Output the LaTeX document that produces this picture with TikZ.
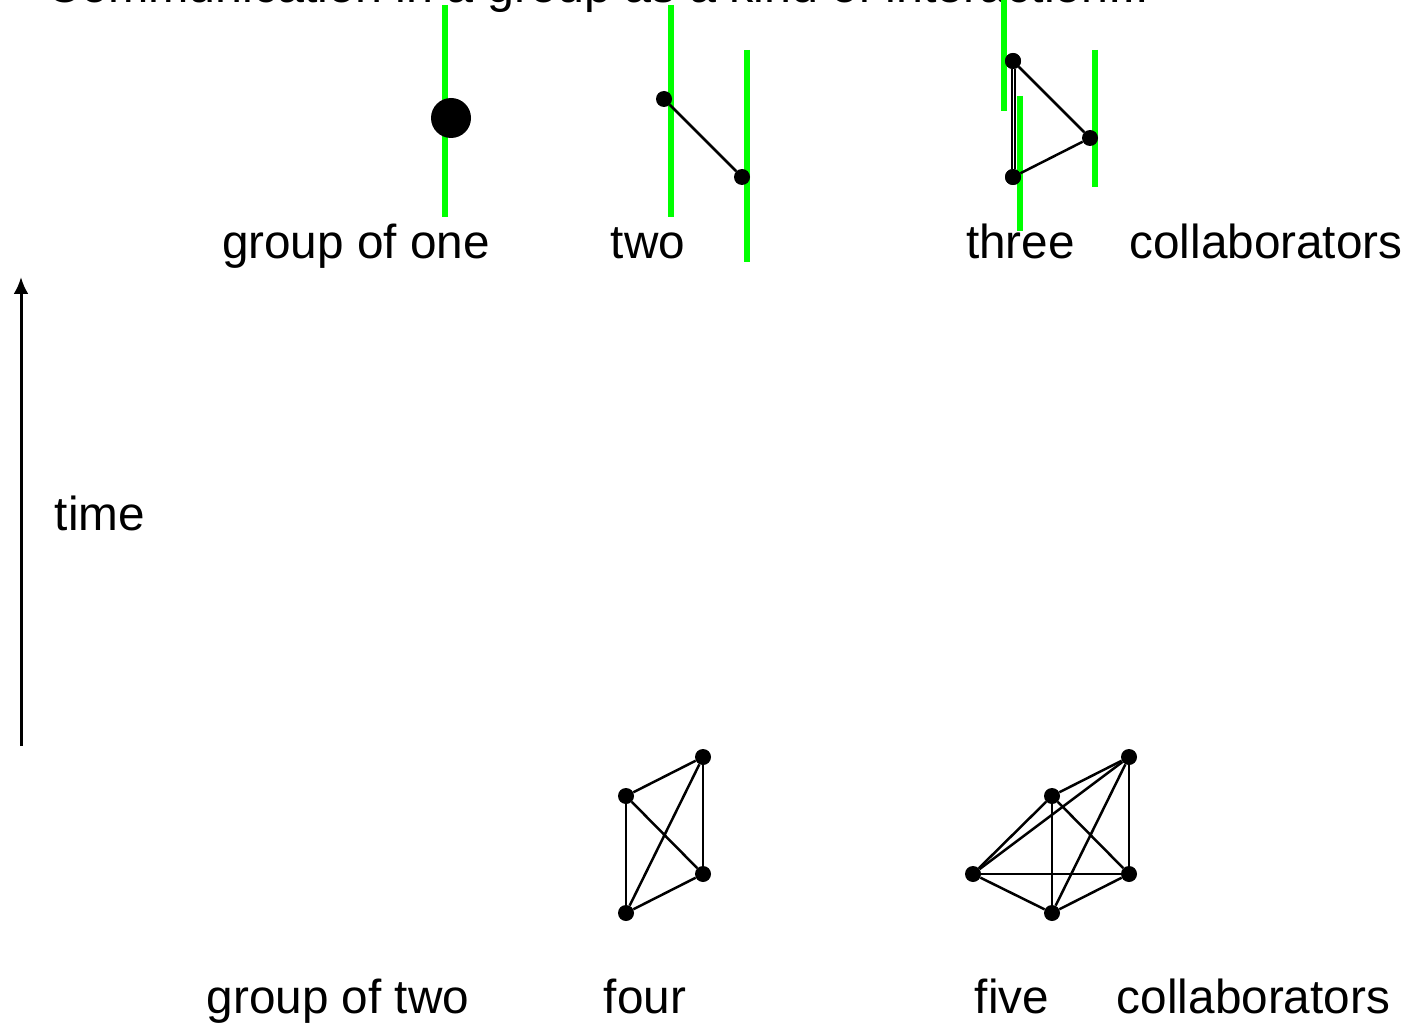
\documentclass[tikz,border=0pt]{standalone}
\usepackage{fontspec}
\setmainfont{Liberation Sans}
\usetikzlibrary{arrows.meta}
\definecolor{tlgreen}{RGB}{0,255,0}
\begin{document}
\begin{tikzpicture}[x=1pt,y=-1pt,
  lbl/.style={inner sep=0pt, anchor=base, font=\fontsize{47.7}{57}\selectfont},
  dot/.style={circle, fill=black, inner sep=0pt, minimum size=16pt},
  bigdot/.style={circle, fill=black, inner sep=0pt, minimum size=40pt},
  tl/.style={draw=tlgreen, line width=6pt},
  edge/.style={draw=black, line width=2.5pt}]
\useasboundingbox (0,0) rectangle (1409,1027);
\clip (0,0) rectangle (1409,1027);
% title (cut off at top)
\node[lbl, anchor=base west, font=\fontsize{48.4}{58}\selectfont] (title) at (46,3) {Communication in a group as a kind of interaction...};
% time arrow
\coordinate (tb) at (21,746);
\coordinate (tt) at (21,277);
\draw[line width=3pt, -{Latex[length=17pt,width=15pt]}] (tb) -- (tt);
\node[lbl] (time) at (100,530) {time};
% timelines
\draw[tl] (445,5) -- (445,217);
\draw[tl] (671,5) -- (671,217);
\draw[tl] (747,50) -- (747,262);
\draw[tl] (1004,0) -- (1004,111);
\draw[tl] (1020,96) -- (1020,231);
\draw[tl] (1095,50) -- (1095,187);
% group of one
\node[bigdot] (o1) at (451,118) {};
% two
\node[dot] (t1) at (664,99) {};
\node[dot] (t2) at (742,177) {};
\draw[edge] (t1) -- (t2);
% three
\node[dot] (h1) at (1013,61) {};
\node[dot] (h2) at (1090,138) {};
\node[dot] (h3) at (1013,177) {};
\draw[edge] (h1) -- (h2);
\draw[edge] (h2) -- (h3);
\draw[line width=2pt, double=white, double distance=1pt] (h1) -- (h3);
\node[dot] at (h1) {};
\node[dot] at (h3) {};
% four
\node[dot] (f1) at (703,757) {};
\node[dot] (f2) at (626,796) {};
\node[dot] (f3) at (703,874) {};
\node[dot] (f4) at (626,913) {};
\foreach \a/\b in {f1/f2,f1/f3,f1/f4,f2/f3,f2/f4,f3/f4} \draw[edge] (\a) -- (\b);
% five
\node[dot] (v1) at (1129,757) {};
\node[dot] (v2) at (1052,796) {};
\node[dot] (v3) at (973,874) {};
\node[dot] (v4) at (1129,874) {};
\node[dot] (v5) at (1052,913) {};
\foreach \a/\b in {v1/v2,v1/v3,v1/v4,v1/v5,v2/v3,v2/v4,v2/v5,v3/v4,v3/v5,v4/v5} \draw[edge] (\a) -- (\b);
% labels
\node[lbl] (l1) at (356,259) {group of one};
\node[lbl] (l2) at (648,259) {two};
\node[lbl] (l3) at (1020.5,259) {three};
\node[lbl] (l4) at (1266,259) {collaborators};
\node[lbl] (l5) at (338,1013) {group of two};
\node[lbl] (l6) at (645,1013) {four};
\node[lbl] (l7) at (1012,1013) {five};
\node[lbl] (l8) at (1253.5,1013) {collaborators};
\end{tikzpicture}
\end{document}
